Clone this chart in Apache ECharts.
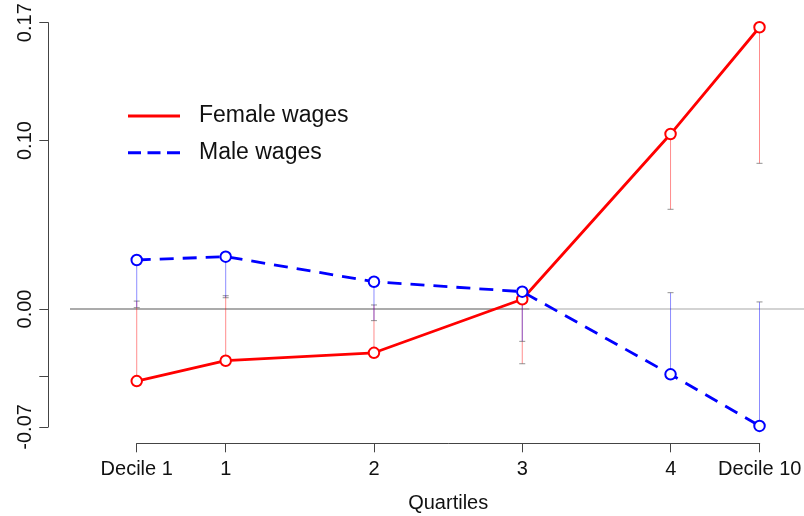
<!DOCTYPE html>
<html>
<head>
<meta charset="utf-8">
<script src="https://cdn.jsdelivr.net/npm/echarts@6/dist/echarts.min.js"></script>
<style>html,body{margin:0;padding:0;background:#fff}#c{width:804px;height:516px}</style>
</head>
<body>
<div id="c"></div>
<script>
// ---- data ----
var xValues = [0.4, 1, 2, 3, 4, 4.6];
var xLabels = ['Decile 1', '1', '2', '3', '4', 'Decile 10'];
var femaleWages = [-0.0428, -0.0307, -0.0260, 0.0058, 0.1039, 0.1673];
var maleWages = [0.0291, 0.0311, 0.0162, 0.0103, -0.0388, -0.0694];
var femaleBound = [0.0047, 0.0079, 0.0024, -0.0325, 0.0592, 0.0865];
var maleBound = [0.0008, 0.0067, -0.0069, -0.0192, 0.0097, 0.0042];
var yTickValues = [-0.07, -0.04, 0, 0.10, 0.17];
var yLabelValues = [-0.07, 0, 0.10, 0.17];
var zeroLineDark = [[-0.05, 0], [3.05, 0]];
var zeroLineLight = [[3.05, 0], [4.9, 0]];

var FONT = "'Liberation Sans', Arial, Helvetica, sans-serif";
var chart = echarts.init(document.getElementById('c'), null, {renderer: 'canvas'});

function pairs(xs, ys) { return xs.map(function (x, i) { return [x, ys[i]]; }); }
function bars(xs, ys, bs) { return xs.map(function (x, i) { return [x, ys[i], bs[i]]; }); }

function errRender(color) {
  return function (params, api) {
    var x = api.value(0);
    var p0 = api.coord([x, api.value(1)]);
    var p1 = api.coord([x, api.value(2)]);
    return {
      type: 'group',
      children: [
        {type: 'line', shape: {x1: p0[0], y1: p0[1], x2: p1[0], y2: p1[1]},
         style: {stroke: color, lineWidth: 1}},
        {type: 'line', shape: {x1: p1[0] - 3, y1: p1[1], x2: p1[0] + 3, y2: p1[1]},
         style: {stroke: 'rgba(100,100,100,0.7)', lineWidth: 1}}
      ]
    };
  };
}

var SOLID_ICON = 'path://M0,0H52V3H0Z';
var DASH_ICON = 'path://M0,0H13V3H0Z M19.5,0H32.5V3H19.5Z M39,0H52V3H39Z';

var option = {
  animation: false,
  backgroundColor: '#fff',
  textStyle: {fontFamily: FONT},
  grid: [
    {left: 70, right: 0, top: 22.7, height: 404.2, outerBoundsMode: 'none', containLabel: false},
    {left: 136.7, width: 623, top: 22.7, height: 404.2, outerBoundsMode: 'none', containLabel: false}
  ],
  xAxis: [
    {gridIndex: 0, type: 'value', min: -0.05, max: 4.9, show: false},
    {gridIndex: 1, type: 'value', min: 0.4, max: 4.6, offset: 16.4,
     axisLine: {show: true, onZero: false, lineStyle: {color: '#444', width: 1}},
     axisTick: {show: true, inside: false, length: 9, lineStyle: {color: '#444'}, customValues: xValues},
     axisLabel: {customValues: xValues, margin: 16, fontSize: 20, color: '#111', fontFamily: FONT,
       formatter: function (v) { var i = xValues.indexOf(v); return i >= 0 ? xLabels[i] : ''; }},
     splitLine: {show: false},
     name: 'Quartiles', nameLocation: 'middle', nameGap: 50,
     nameTextStyle: {fontSize: 20, color: '#111', fontFamily: FONT}}
  ],
  yAxis: [
    {gridIndex: 0, type: 'value', min: -0.07, max: 0.17, show: false},
    {gridIndex: 1, type: 'value', min: -0.07, max: 0.17, offset: 88.4,
     axisLine: {show: true, onZero: false, lineStyle: {color: '#444', width: 1}},
     axisTick: {show: true, inside: false, length: 9, lineStyle: {color: '#444'}, customValues: yTickValues},
     axisLabel: {customValues: yLabelValues, rotate: 90, margin: 13, fontSize: 20, color: '#111', fontFamily: FONT,
       formatter: function (v) { return v.toFixed(2); }},
     splitLine: {show: false}}
  ],
  legend: {
    orient: 'vertical', left: 128, top: 104.5, padding: 0,
    itemWidth: 52, itemHeight: 3, itemGap: 13.8,
    data: [
      {name: 'Female wages', icon: SOLID_ICON},
      {name: 'Male wages', icon: DASH_ICON}
    ],
    textStyle: {fontSize: 23, color: '#111', fontFamily: FONT, lineHeight: 23, padding: [0, 0, 0, 14]}
  },
  series: [
    {name: 'zero', type: 'line', xAxisIndex: 0, yAxisIndex: 0, data: zeroLineDark, symbol: 'none',
     lineStyle: {color: '#8f8f8f', width: 1.3}, silent: true, z: 1},
    {name: 'zero2', type: 'line', xAxisIndex: 0, yAxisIndex: 0, data: zeroLineLight, symbol: 'none',
     lineStyle: {color: '#c4c4c4', width: 1.3}, silent: true, z: 1},
    {name: 'femaleErr', type: 'custom', xAxisIndex: 0, yAxisIndex: 0, data: bars(xValues, femaleWages, femaleBound),
     renderItem: errRender('rgba(255,0,0,0.45)'), z: 2, silent: true},
    {name: 'maleErr', type: 'custom', xAxisIndex: 0, yAxisIndex: 0, data: bars(xValues, maleWages, maleBound),
     renderItem: errRender('rgba(0,0,255,0.45)'), z: 2, silent: true},
    {name: 'femaleLine', type: 'line', xAxisIndex: 0, yAxisIndex: 0, data: pairs(xValues, femaleWages),
     symbol: 'emptyCircle', symbolSize: 10.5, showAllSymbol: true,
     itemStyle: {color: '#ff0000', borderColor: '#ff0000', borderWidth: 3},
     lineStyle: {color: '#ff0000', width: 2.8}, z: 3},
    {name: 'maleLine', type: 'line', xAxisIndex: 0, yAxisIndex: 0, data: pairs(xValues, maleWages),
     symbol: 'emptyCircle', symbolSize: 10.5, showAllSymbol: true,
     itemStyle: {color: '#0000ff', borderColor: '#0000ff', borderWidth: 3},
     lineStyle: {color: '#0000ff', width: 2.8, type: [14, 9]}, z: 4},
    {name: 'Female wages', type: 'line', xAxisIndex: 0, yAxisIndex: 0, data: [], symbol: 'none',
     itemStyle: {color: '#ff0000'}, lineStyle: {color: '#ff0000', width: 2.6}},
    {name: 'Male wages', type: 'line', xAxisIndex: 0, yAxisIndex: 0, data: [], symbol: 'none',
     itemStyle: {color: '#0000ff'}, lineStyle: {color: '#0000ff', width: 2.6}}
  ]
};
chart.setOption(option);
</script>
</body>
</html>
